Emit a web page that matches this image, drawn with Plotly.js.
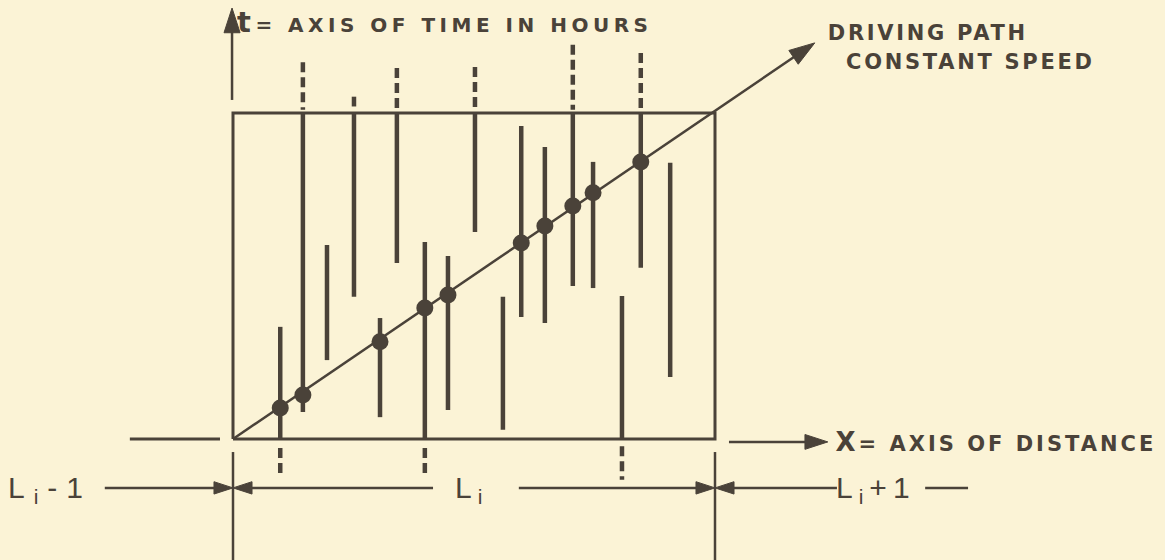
<!DOCTYPE html>
<html>
<head>
<meta charset="utf-8">
<script src="https://cdn.plot.ly/plotly-3.0.1.min.js"></script>
<style>
  html, body { margin: 0; padding: 0; background: #fbf3d6; }
  #chart { width: 1165px; height: 560px; }
  g.annotation[data-index="0"] text { letter-spacing: 4.5px; }
  g.annotation[data-index="1"] text { letter-spacing: 2.7px; }
  g.annotation[data-index="2"] text { letter-spacing: 2.7px; }
  g.annotation[data-index="3"] text { letter-spacing: 3px; }
  g.annotation[data-index="4"] text { letter-spacing: 9px; }
  g.annotation[data-index="5"] text,
  g.annotation[data-index="6"] text { letter-spacing: 6px; }
</style>
</head>
<body>
<div id="chart"></div>
<script>
// ---- data (distance units: box spans one link L_i = 0..10; time 0..10 h) ----
const segX     = [0.98, 1.45, 1.95, 2.51, 3.05, 3.40, 3.98, 4.46, 5.02, 5.60, 5.98, 6.47, 7.05, 7.47, 8.07, 8.46, 9.07];
const segStart = [0.00, 0.83, 2.42, 4.36, 0.67, 5.40, 0.00, 0.89, 6.35, 0.28, 3.74, 3.56, 4.69, 4.63, 0.00, 5.25, 1.90];
const segEnd   = [3.44, 10.0, 5.95, 10.0, 3.71, 10.0, 6.04, 5.61, 10.0, 4.36, 9.60, 8.96, 10.0, 8.50, 4.39, 10.0, 8.47];

const dashUpX    = [1.45, 2.51, 3.40, 5.02, 7.05, 8.46];
const dashUpTop  = [11.56, 10.50, 11.38, 11.41, 12.09, 11.84];
const dashUpBase = [10.10, 10.20, 10.10, 10.10, 10.10, 10.10];

const dashDownX   = [0.98, 3.98, 8.07];
const dashDownTop = [-0.28, -0.28, -0.22];
const dashDownBot = [-1.18, -1.18, -1.25];

const dotX = [0.98, 1.45, 3.05, 3.98, 4.46, 5.98, 6.47, 7.05, 7.47, 8.46];
const dotT = [0.95, 1.35, 2.98, 4.02, 4.42, 6.01, 6.53, 7.15, 7.55, 8.50];

const boxX = [0, 10];   // link L_i
const boxT = [0, 10];   // time window
const pathEnd = [12.07, 12.15];   // driving path arrow tip (x, t)

const dimT = -1.50;     // dimension line level
const labels = {
  tAxis: "<span style='font-size:29px'>t</span>= AXIS OF TIME IN HOURS",
  drive1: "DRIVING PATH",
  drive2: "CONSTANT SPEED",
  xAxis: "<span style='font-size:26px'>X</span>= AXIS OF DISTANCE",
  linkPrev: "L<sub>i</sub>-1",
  link: "L<sub>i</sub>",
  linkNext: "L<sub>i</sub>+1"
};

// ---- style ----
const INK = '#4a4239';
const BG = '#fbf3d6';
const X_RANGE = [-4.834, 19.336];
const T_RANGE = [-3.712, 13.466];

function segs(xs, a, b) {
  const x = [], y = [];
  for (let i = 0; i < xs.length; i++) { x.push(xs[i], xs[i], null); y.push(a[i], b[i], null); }
  return {x, y};
}

const s = segs(segX, segStart, segEnd);
const du = segs(dashUpX, dashUpTop, dashUpBase);
const dd = segs(dashDownX, dashDownTop, dashDownBot);

function arrowTrace(x0, y0, x1, y1, w, size) {
  return {
    x: [x0, x1], y: [y0, y1], mode: 'lines+markers',
    line: {color: INK, width: w},
    marker: {symbol: 'arrow', size: [0, size], angleref: 'previous', color: INK, opacity: 1,
             line: {width: 1, color: INK}},
    hoverinfo: 'skip'
  };
}

const traces = [
  { // box (time window over link)
    x: [boxX[0], boxX[1], boxX[1], boxX[0], boxX[0]],
    y: [boxT[0], boxT[0], boxT[1], boxT[1], boxT[0]],
    mode: 'lines', line: {color: INK, width: 3}, hoverinfo: 'skip'
  },
  { // availability segments
    x: s.x, y: s.y, mode: 'lines', line: {color: INK, width: 4.5}, hoverinfo: 'skip'
  },
  {
    x: du.x, y: du.y, mode: 'lines', line: {color: INK, width: 4.5, dash: '10px,5px'}, hoverinfo: 'skip'
  },
  {
    x: dd.x, y: dd.y, mode: 'lines', line: {color: INK, width: 4.5, dash: '10px,5px'}, hoverinfo: 'skip'
  },
  { // left x-axis stub
    x: [-2.14, -0.27], y: [0, 0], mode: 'lines', line: {color: INK, width: 3}, hoverinfo: 'skip'
  },
  { // vertical extension lines below
    x: [boxX[0], boxX[0], null, boxX[1], boxX[1]],
    y: [-0.40, T_RANGE[0] - 1, null, -0.40, T_RANGE[0] - 1],
    mode: 'lines', line: {color: INK, width: 2.5}, hoverinfo: 'skip'
  },
  { // dimension line plain tail
    x: [14.36, 15.25], y: [dimT, dimT], mode: 'lines', line: {color: INK, width: 2.5}, hoverinfo: 'skip'
  },
  arrowTrace(0, 0, pathEnd[0], pathEnd[1], 2.5, 27),          // driving path
  arrowTrace(-0.02, 10.40, -0.02, 13.22, 2.5, 26),            // t axis
  arrowTrace(10.29, -0.09, 12.34, -0.09, 2.5, 24),            // x axis
  arrowTrace(-2.66, dimT, 0, dimT, 2.5, 20),
  arrowTrace(4.15, dimT, 0, dimT, 2.5, 20),
  arrowTrace(5.93, dimT, 10, dimT, 2.5, 20),
  arrowTrace(12.53, dimT, 10, dimT, 2.5, 20),
  { // intersections with driving path
    x: dotX, y: dotT, mode: 'markers',
    marker: {color: INK, size: 17, symbol: 'circle', line: {width: 0}}, hoverinfo: 'skip'
  }
];

function label(text, x, y, size, xanchor, family, weight) {
  return {text, x, y, xref: 'x', yref: 'y', showarrow: false, xanchor: xanchor || 'left', yanchor: 'middle',
          font: {family: family || 'DejaVu Sans', size, color: INK, weight: weight || 'bold'}};
}

const annotations = [
  label(labels.tAxis, 1.16, 12.80, 20),
  label(labels.drive1, 12.64, 12.45, 21),
  label(labels.drive2, 13.07, 11.56, 21),
  label(labels.xAxis, 13.05, -0.09, 21),
  label(labels.linkPrev, -3.80, dimT - 0.05, 30, 'center', 'Liberation Sans', 'normal'),
  label(labels.link, 4.95, dimT - 0.05, 30, 'center', 'Liberation Sans', 'normal'),
  label(labels.linkNext, 13.35, dimT - 0.05, 30, 'center', 'Liberation Sans', 'normal')
];

const layout = {
  width: 1165, height: 560,
  margin: {l: 0, r: 0, t: 0, b: 0, pad: 0},
  paper_bgcolor: BG, plot_bgcolor: BG,
  showlegend: false,
  xaxis: {range: X_RANGE, visible: false, fixedrange: true},
  yaxis: {range: T_RANGE, visible: false, fixedrange: true},
  annotations
};

Plotly.newPlot('chart', traces, layout, {staticPlot: true, displayModeBar: false});
</script>
</body>
</html>
